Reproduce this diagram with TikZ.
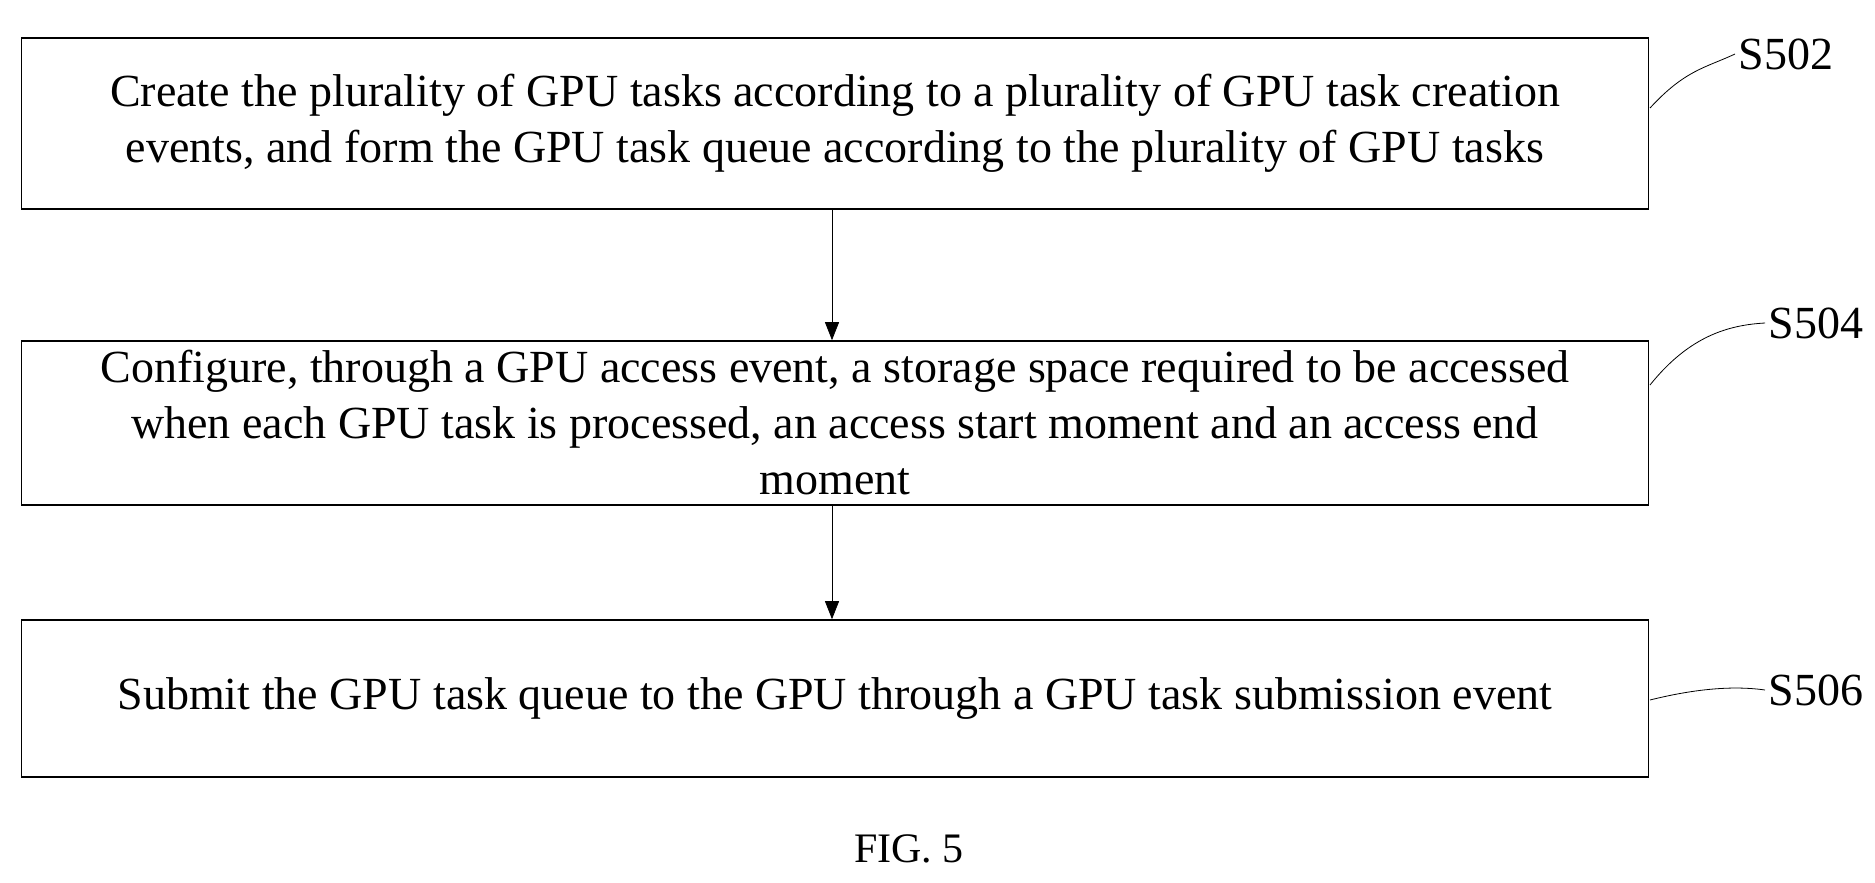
\documentclass[tikz,border=0pt]{standalone}
\usepackage{fontspec}
\setmainfont{Liberation Serif}
\usetikzlibrary{arrows.meta}
\begin{document}
\begin{tikzpicture}[x=1pt,y=-1pt,
 box/.style={draw,line width=1.6pt,minimum width=1627pt,align=center,font=\fontsize{46}{56}\selectfont},
 lab/.style={font=\fontsize{46}{50}\selectfont,anchor=west},
 arr/.style={-{Triangle[length=18pt,width=14pt]},line width=0.8pt}]
\useasboundingbox (0,0) rectangle (1875,883);
\node[box,minimum height=171pt] (b1) at (835,123.5) {Create the plurality of GPU tasks according to a plurality of GPU task creation\\events, and form the GPU task queue according to the plurality of GPU tasks};
\node[box,minimum height=164pt,inner sep=0pt] (b2) at (835,423) {Configure, through a GPU access event, a storage space required to be accessed\\when each GPU task is processed, an access start moment and an access end\\moment};
\node[box,minimum height=157pt] (b3) at (835,698.5) {Submit the GPU task queue to the GPU through a GPU task submission event};
\draw[arr] (b1.south -| 832,0) -- (b2.north -| 832,0);
\draw[arr] (b2.south -| 832,0) -- (b3.north -| 832,0);
\node[lab] (l1) at (1735,54) {S502};
\node[lab] (l2) at (1765,323) {S504};
\node[lab] (l3) at (1765,690) {S506};
\coordinate (c1) at (1650,108);
\coordinate (c2) at (1650,385);
\coordinate (c3) at (1650,700);
\draw[line width=0.8pt] (c1) .. controls (1685,70) and (1705,68) .. (l1.west);
\draw[line width=0.8pt] (c2) .. controls (1690,335) and (1730,325) .. (l2.west);
\draw[line width=0.8pt] (c3) .. controls (1690,690) and (1730,685) .. (l3.west);
\node[font=\fontsize{42}{46}\selectfont] (fig) at (909,849) {FIG. 5};
\end{tikzpicture}
\end{document}
